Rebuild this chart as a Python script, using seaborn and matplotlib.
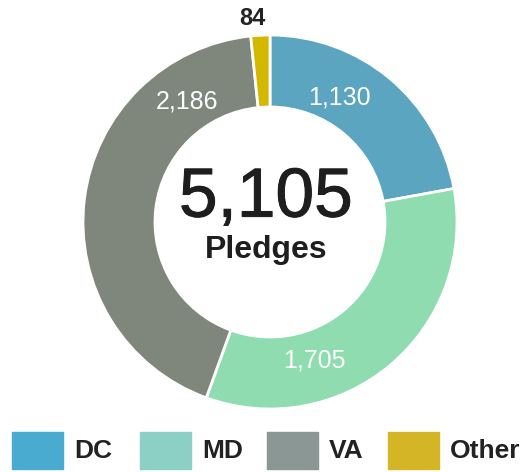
import matplotlib
matplotlib.use("Agg")
import matplotlib.pyplot as plt
import matplotlib.patheffects as pe
from matplotlib.patches import Rectangle
import seaborn as sns

# data
regions = ["DC", "MD", "VA", "Other"]
pledges = [1130, 1705, 2186, 84]
wedge_colors = ["#5ba5c0", "#8edcb0", "#7f877c", "#d4b800"]
legend_colors = ["#4aabd1", "#8ccfc4", "#8a9794", "#d4b526"]
value_labels = ["1,130", "1,705", "2,186", "84"]

sns.set_theme(style="white")
plt.rcParams['font.family'] = ['Liberation Sans', 'DejaVu Sans']

fig = plt.figure(figsize=(5.31, 4.72), dpi=100)
# axes centred on the donut (centre ~ (270,222) px, radius ~187 px)
r_px = 187
half = 190
ax = fig.add_axes([(270 - half) / 531, (472 - 222 - half) / 472, 2 * half / 531, 2 * half / 472])
ax.pie(pledges, colors=wedge_colors, startangle=90, counterclock=False, radius=1,
       wedgeprops=dict(width=0.385, edgecolor="white", linewidth=2))
lim = half / r_px
ax.set_xlim(-lim, lim)
ax.set_ylim(-lim, lim)
ax.set_aspect("equal")
ax.axis("off")

# value labels (positions, in radius units)
label_pos = [(0.369, 0.668), (0.238, -0.741), (-0.444, 0.644), (-0.096, 1.09)]
label_col = ["white", "white", "white", "#222222"]
label_size = [18, 18, 18, 17]
for txt, (x, y), c, s in zip(value_labels, label_pos, label_col, label_size):
    ax.text(x, y, txt, ha="center", va="center", fontsize=s, color=c,
            fontweight="normal" if c == "white" else "bold")

total = sum(pledges)
ax.text(-0.021, 0.125, "{:,}".format(total), ha="center", va="center",
        fontsize=50, color="#1e1e1e",
        path_effects=[pe.withStroke(linewidth=0.7, foreground="#1e1e1e")])
ax.text(-0.021, -0.15, "Pledges", ha="center", va="center",
        fontsize=23, fontweight="bold", color="#1e1e1e")

# legend row
box_x = [12, 140, 267, 388]
for name, col, bx in zip(regions, legend_colors, box_x):
    fig.patches.append(Rectangle((bx / 531, (472 - 469) / 472), 51 / 531, 37 / 472,
                                 transform=fig.transFigure, color=col, figure=fig))
    fig.text((bx + 62) / 531, (472 - 451) / 472, name, ha="left", va="center",
             fontsize=19, fontweight="bold", color="#222222")

fig.savefig("out.png", dpi=100)
